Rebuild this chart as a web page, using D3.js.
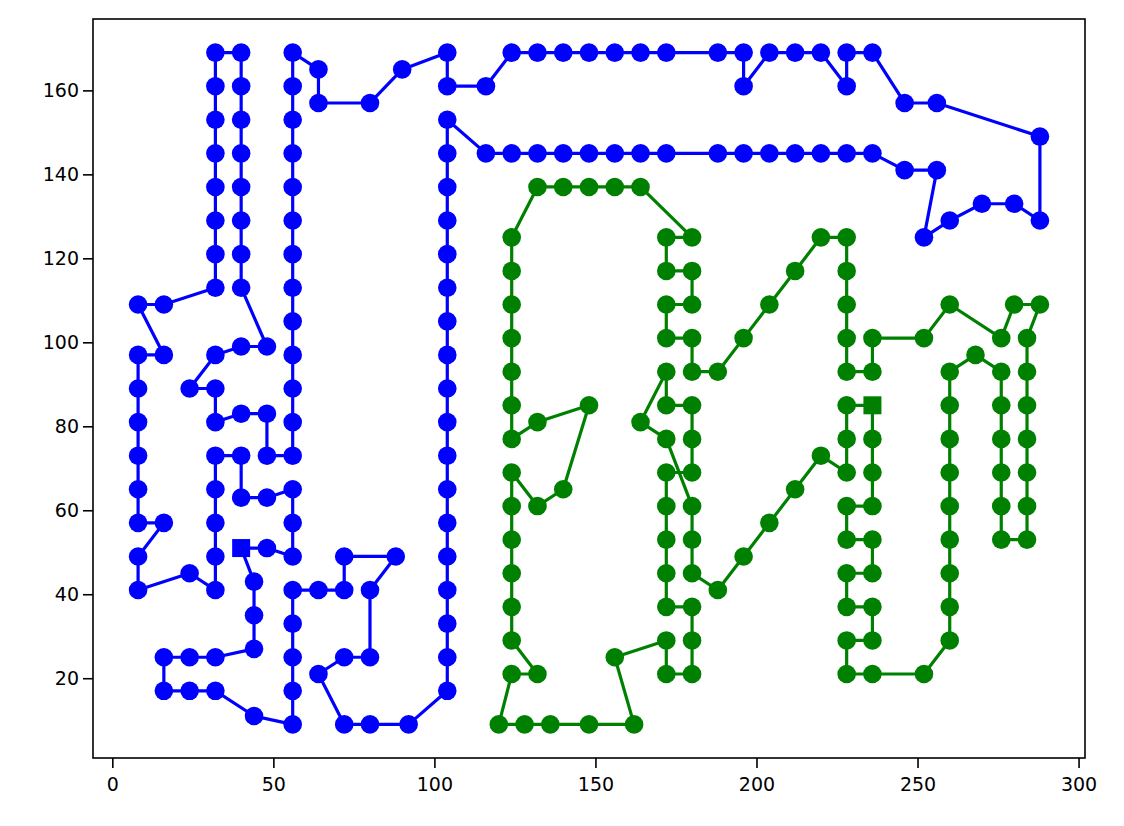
<!DOCTYPE html>
<html><head><meta charset="utf-8">
<script src="https://cdn.jsdelivr.net/npm/d3@7"></script>
<style>body{margin:0;background:#fff}svg{display:block}text{font-family:"DejaVu Sans",sans-serif}</style>
</head><body>
<script>
// Blue route (closed, starts at square)
const blueX = [40,48,56,56,56,48,40,40,32,32,32,32,32,24,8,8,16,8,8,8,8,8,8,16,8,16,32,32,32,32,32,32,32,32,40,40,40,40,40,40,40,40,48,40,32,24,32,32,40,48,48,56,56,56,56,56,56,56,56,56,56,56,56,56,64,64,80,90,104,104,116,124,132,140,148,156,164,172,188,196,196,204,212,220,228,228,236,246,256,288,288,280,270,260,252,256,246,236,228,220,212,204,196,188,172,164,156,148,140,132,124,116,104,104,104,104,104,104,104,104,104,104,104,104,104,104,104,104,104,104,92,80,72,64,72,80,80,88,72,72,64,56,56,56,56,56,44,32,24,16,16,24,32,44,44,44,40];
const blueY = [51,51,49,57,65,63,63,73,73,65,57,49,41,45,41,49,57,57,65,73,81,89,97,97,109,109,113,121,129,137,145,153,161,169,169,161,153,145,137,129,121,113,99,99,97,89,89,81,83,83,73,73,81,89,97,105,113,121,129,137,145,153,161,169,165,157,157,165,169,161,161,169,169,169,169,169,169,169,169,169,161,169,169,169,161,169,169,157,157,149,129,133,133,129,125,141,141,145,145,145,145,145,145,145,145,145,145,145,145,145,145,145,153,145,137,129,121,113,105,97,89,81,73,65,57,49,41,33,25,17,9,9,9,21,25,25,41,49,49,41,41,41,33,25,17,9,11,17,17,17,25,25,25,27,35,43,51];
// Green route (closed, starts at square)
const greenX = [236,236,236,236,228,228,236,236,228,228,236,236,228,228,236,252,260,260,260,260,260,260,260,260,260,268,276,276,276,276,276,276,284,284,284,284,284,284,284,288,280,276,260,252,236,236,228,228,228,228,228,220,212,204,196,188,180,180,172,172,180,180,172,172,180,164,156,148,140,132,124,124,124,124,124,124,124,132,148,140,132,124,124,124,124,124,124,132,124,120,128,136,148,162,156,172,172,180,180,180,172,172,172,172,172,180,180,180,172,172,164,172,180,180,180,188,196,204,212,220,228,228,228,236];
const greenY = [85,77,69,61,61,53,53,45,45,37,37,29,29,21,21,21,29,37,45,53,61,69,77,85,93,97,93,85,77,69,61,53,53,61,69,77,85,93,101,109,109,101,109,101,101,93,93,101,109,117,125,125,117,109,101,93,93,101,101,109,109,117,117,125,125,137,137,137,137,137,125,117,109,101,93,85,77,81,85,65,61,69,61,53,45,37,29,21,21,9,9,9,9,9,25,29,21,21,29,37,37,45,53,61,69,69,77,85,85,93,81,77,61,53,45,41,49,57,65,73,69,77,85,85];
const xTicks = [0,50,100,150,200,250,300];
const yTicks = [20,40,60,80,100,120,140,160];
const xDomain = [-6,302];
const yDomain = [1,177];

const W=1124,H=826, L=93, R=1085, T=19, B=758;
const svg=d3.select("body").append("svg").attr("width",W).attr("height",H);
const x=d3.scaleLinear().domain(xDomain).range([L,R]);
const y=d3.scaleLinear().domain(yDomain).range([B,T]);

function series(xs,ys,color){
  const pts=xs.map((v,i)=>[v,ys[i]]);
  const g=svg.append("g");
  g.append("path").attr("d",d3.line().x(d=>x(d[0])).y(d=>y(d[1]))(pts))
    .attr("fill","none").attr("stroke",color).attr("stroke-width",3.2).attr("stroke-linejoin","round");
  g.selectAll("circle").data(pts.slice(1,pts.length-1)).enter().append("circle")
    .attr("cx",d=>x(d[0])).attr("cy",d=>y(d[1])).attr("r",9.3).attr("fill",color);
  const s=18;
  g.append("rect").attr("x",x(pts[0][0])-s/2).attr("y",y(pts[0][1])-s/2).attr("width",s).attr("height",s).attr("fill",color);
}
series(blueX,blueY,"#0000ff");
series(greenX,greenY,"#008000");

const xa=svg.append("g").attr("transform",`translate(0,${B})`)
  .call(d3.axisBottom(x).tickValues(xTicks).tickSize(10).tickPadding(10).tickFormat(d3.format("d")));
const ya=svg.append("g").attr("transform",`translate(${L},0)`)
  .call(d3.axisLeft(y).tickValues(yTicks).tickSize(10).tickPadding(4).tickFormat(d3.format("d")));
[xa,ya].forEach(a=>{a.select(".domain").remove();a.selectAll("line").attr("stroke","#000").attr("stroke-width",1.6);
  a.selectAll("text").attr("font-size",19).attr("fill","#000").attr("font-family","DejaVu Sans");});
svg.append("rect").attr("x",L).attr("y",T).attr("width",R-L).attr("height",B-T)
  .attr("fill","none").attr("stroke","#000").attr("stroke-width",1.6);
</script>
</body></html>
